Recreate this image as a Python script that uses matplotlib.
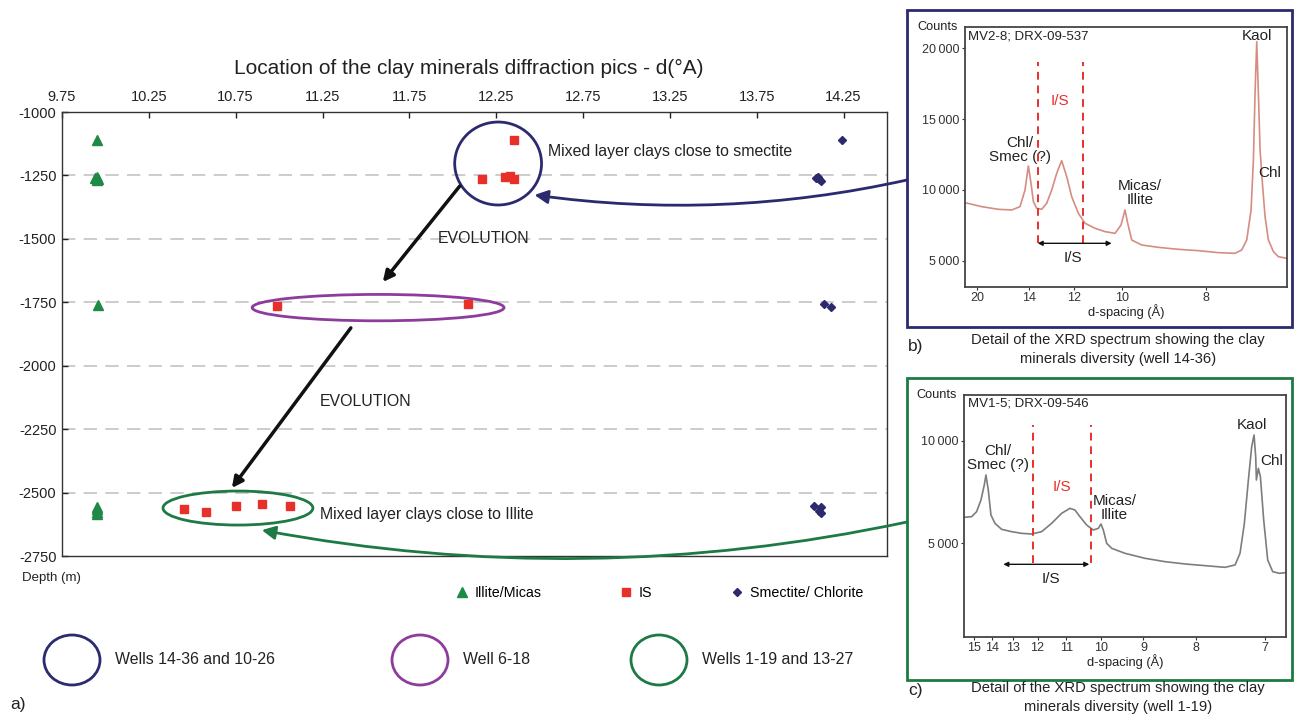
import numpy as np
import matplotlib
matplotlib.use("Agg")
import matplotlib.pyplot as plt
from matplotlib.patches import Ellipse, Rectangle

plt.rcParams['font.family'] = ['Liberation Sans', 'DejaVu Sans']

# ---------------- main chart data: peak position d (Å) vs depth (m) ----------------
illite_d = [9.95, 9.95, 9.94, 9.95, 9.96, 9.957, 9.95, 9.953, 9.95, 9.953]
illite_depth = [-1110, -1255, -1262, -1268, -1265, -1760, -2555, -2565, -2575, -2585]

is_d = [12.35, 12.17, 12.30, 12.33, 12.35, 10.99, 12.09, 10.45, 10.58, 10.75, 10.90, 11.06]
is_depth = [-1110, -1264, -1257, -1251, -1265, -1765, -1756, -2565, -2577, -2552, -2546, -2552]

smec_d = [14.24, 14.10, 14.11, 14.12, 14.09, 14.14, 14.18, 14.08, 14.12, 14.11, 14.12]
smec_depth = [-1112, -1258, -1265, -1270, -1262, -1757, -1767, -2552, -2556, -2571, -2581]

x_ticks = [9.75, 10.25, 10.75, 11.25, 11.75, 12.25, 12.75, 13.25, 13.75, 14.25]
y_ticks = [-1000, -1250, -1500, -1750, -2000, -2250, -2500, -2750]

# ---------------- XRD spectrum MV2-8 (x in °2θ, Cu Kα) ----------------
b_theta = [4.751, 5.186, 5.620, 5.968, 6.185, 6.315, 6.402, 6.472, 6.533, 6.620,
           6.750, 6.880, 7.011, 7.141, 7.271, 7.402, 7.532, 7.706, 7.880, 8.140,
           8.401, 8.662, 8.818, 8.922, 8.992, 9.096, 9.357, 9.791, 10.313, 10.834,
           11.356, 11.790, 11.964, 12.094, 12.207, 12.268, 12.311, 12.355, 12.398,
           12.442, 12.503, 12.572, 12.659, 12.790, 12.920, 13.136]
b_counts = [9098, 8815, 8627, 8580, 8815, 9990, 11690, 10460, 9170, 8700,
            8627, 9050, 9990, 11170, 12065, 10935, 9520, 8340, 7640, 7285,
            7050, 6930, 7520, 8580, 7640, 6460, 6107, 5940, 5800, 5707,
            5565, 5520, 5754, 6460, 8580, 12110, 16820, 20470, 16820,
            12820, 10460, 8110, 6460, 5635, 5280, 5165]
b_tick_pos = [5.07, 6.42, 7.59, 8.835, 11.03]
b_tick_lab = ['20', '14', '12', '10', '8']

# ---------------- XRD spectrum MV1-5 ----------------
c_theta = [5.660, 5.830, 5.946, 6.047, 6.124, 6.163, 6.217, 6.279, 6.372, 6.527,
           6.759, 6.991, 7.224, 7.456, 7.688, 7.920, 8.114, 8.230, 8.346, 8.501,
           8.656, 8.773, 8.835, 8.889, 8.967, 9.083, 9.393, 9.857, 10.322, 10.787,
           11.251, 11.716, 11.948, 12.064, 12.165, 12.258, 12.335, 12.390, 12.428,
           12.444, 12.490, 12.537, 12.614, 12.707, 12.823, 12.978, 13.125]
c_counts = [6266, 6298, 6542, 7110, 7840, 8327, 7597, 6380, 5974, 5682,
            5568, 5487, 5454, 5568, 5974, 6461, 6704, 6623, 6298, 5893,
            5649, 5730, 5941, 5649, 5000, 4757, 4513, 4270, 4107, 3994,
            3913, 3831, 3945, 4513, 5974, 8084, 9707, 10275, 9220,
            8084, 8651, 8246, 6136, 4189, 3620, 3539, 3572]
c_tick_d = [15, 14, 13, 12, 11, 10, 9, 8, 7]

NAVY = '#2b2a6f'
PURPLE = '#8e3c9c'
GREEN = '#1e7a45'
TRI_GREEN = '#1f8a45'
RED = '#e8302a'
GRID = '#c4c4c4'
TXT = '#222222'

W, H = 1297, 718
fig = plt.figure(figsize=(W / 100, H / 100), dpi=100)


def fx(px):
    return px / W


def fy(py):
    return 1 - py / H


# ---------------- main axes ----------------
ax = fig.add_axes([fx(62), fy(556), fx(887) - fx(62), fy(112) - fy(556)])
ax.set_xlim(9.75, 14.5)
ax.set_ylim(-2750, -1000)
ax.xaxis.tick_top()
ax.set_xticks(x_ticks)
ax.set_xticklabels([f"{v:.2f}" for v in x_ticks])
ax.set_yticks(y_ticks)
ax.set_yticklabels([str(v) for v in y_ticks])
ax.tick_params(axis='both', direction='in', length=4, width=1, labelsize=10.5, colors=TXT, pad=4)
ax.tick_params(axis='x', pad=6)
for s in ax.spines.values():
    s.set_color('#333333')
    s.set_linewidth(1.0)
for yv in y_ticks[1:-1]:
    ax.axhline(yv, color=GRID, lw=1.2, dashes=(8, 5), zorder=0)
ax.set_title("Location of the clay minerals diffraction pics - d(°A)", fontsize=15, pad=27, color=TXT,
             x=0.493)

h_ill, = ax.plot(illite_d, illite_depth, ls='none', marker='^', ms=7, color=TRI_GREEN, mec=TRI_GREEN, zorder=3)
h_is, = ax.plot(is_d, is_depth, ls='none', marker='s', ms=5.5, color=RED, mec=RED, zorder=3)
h_sm, = ax.plot(smec_d, smec_depth, ls='none', marker='D', ms=4.5, color=NAVY, mec=NAVY, zorder=3)

# groupings of samples by well
ax.add_patch(Ellipse((12.261, -1203), 0.50, 327, fill=False, ec=NAVY, lw=2, zorder=2))
ax.add_patch(Ellipse((11.57, -1771), 1.45, 104, fill=False, ec=PURPLE, lw=2, zorder=2))
ax.add_patch(Ellipse((10.763, -2561), 0.863, 134, fill=False, ec=GREEN, lw=2, zorder=2))

ax.text(12.546, -1154, "Mixed layer clays close to smectite", fontsize=11.4, va='center', ha='left', color=TXT)
ax.text(11.234, -2585, "Mixed layer clays close to Illite", fontsize=11.4, va='center', ha='left', color=TXT)
ax.text(12.178, -1500, "EVOLUTION", fontsize=11.4, ha='center', va='center', color=TXT)
ax.text(11.499, -2143, "EVOLUTION", fontsize=11.4, ha='center', va='center', color=TXT)

blk = dict(arrowstyle='-|>', color='#111111', lw=2.5, mutation_scale=16, shrinkA=0, shrinkB=0)
ax.annotate('', xy=(11.597, -1670), xytext=(12.04, -1292), arrowprops=blk)
ax.annotate('', xy=(10.728, -2482), xytext=(11.413, -1851), arrowprops=blk)

# curved pointers from the spectrum panels
ax.annotate('', xy=(12.47, -1327), xycoords='data', xytext=(907, H - 180), textcoords='figure pixels',
            arrowprops=dict(arrowstyle='-|>', color=NAVY, lw=2, mutation_scale=20, shrinkA=0, shrinkB=0,
                            connectionstyle='arc3,rad=-0.09'), annotation_clip=False)
ax.annotate('', xy=(10.90, -2648), xycoords='data', xytext=(907, H - 522), textcoords='figure pixels',
            arrowprops=dict(arrowstyle='-|>', color=GREEN, lw=2, mutation_scale=20, shrinkA=0, shrinkB=0,
                            connectionstyle='arc3,rad=-0.1'), annotation_clip=False)

fig.text(fx(22), fy(578), "Depth (m)", fontsize=9.5, ha='left', va='center', color=TXT)

fig.legend([h_ill, h_is, h_sm], ["Illite/Micas", "IS", "Smectite/ Chlorite"], loc='center left',
           bbox_to_anchor=(fx(456), fy(593)), ncol=3, frameon=False, fontsize=10.3, handlelength=0.8,
           handletextpad=0.5, columnspacing=5.5, borderpad=0, borderaxespad=0)

# well legend
for (cx, col, lab) in [(72, NAVY, "Wells 14-36 and 10-26"), (420, PURPLE, "Well 6-18"),
                       (659, GREEN, "Wells 1-19 and 13-27")]:
    fig.patches.append(Ellipse((fx(cx), fy(660)), 56 / W, 50 / H, fill=False, ec=col, lw=2,
                               transform=fig.transFigure))
    fig.text(fx(cx + 43), fy(660), lab, fontsize=11.4, ha='left', va='center', color=TXT)

fig.text(fx(10), fy(705), "a)", fontsize=12.5, ha='left', va='center', color=TXT)


# ---------------- spectrum panels ----------------
def spectrum_panel(rect, theta, counts, xlim, ylim, tick_pos, tick_lab, yticks, ylabs, line_col, name):
    a = fig.add_axes(rect)
    a.plot(theta, counts, color=line_col, lw=1.2)
    a.set_xlim(*xlim)
    a.set_ylim(*ylim)
    a.set_xticks(tick_pos)
    a.set_xticklabels(tick_lab)
    a.set_yticks(yticks)
    a.set_yticklabels(ylabs)
    a.tick_params(labelsize=9, length=2, colors='#333333', pad=2)
    for s in a.spines.values():
        s.set_color('#444444')
        s.set_linewidth(1.3)
    a.set_xlabel("d-spacing (Å)", fontsize=9.3, labelpad=0, color=TXT)
    a.text(-0.022, 1.0, "Counts", transform=a.transAxes, fontsize=9.2, ha='right', va='center', color=TXT)
    a.text(0.01, 0.965, name, transform=a.transAxes, fontsize=9.5, ha='left', va='center', color=TXT)
    return a


LAB = 11

# panel b
ab = spectrum_panel([fx(965), fy(286.7), fx(1286.7) - fx(965), fy(27.3) - fy(286.7)],
                    b_theta, b_counts, (4.751, 13.136), (3160, 21485), b_tick_pos, b_tick_lab,
                    [5000, 10000, 15000, 20000], ['5\u2009000', '10\u2009000', '15\u2009000', '20\u2009000'],
                    '#d58d82', "MV2-8; DRX-09-537")
for xv in (6.645, 7.818):
    ab.plot([xv, xv], [6225, 19060], color=RED, lw=1.4, dashes=(4, 3))
ab.text(7.227, 16304, "I/S", color=RED, fontsize=LAB, ha='center', va='center')
ab.annotate('', xy=(8.574, 6225), xytext=(6.645, 6225),
            arrowprops=dict(arrowstyle='<|-|>', color='#111111', lw=1, mutation_scale=7, shrinkA=0, shrinkB=0))
ab.text(7.575, 5165, "I/S", fontsize=LAB, ha='center', va='center', color=TXT)
ab.text(6.185, 12819, "Chl/\nSmec (?)", fontsize=LAB, ha='center', va='center', color=TXT, linespacing=1.0)
ab.text(9.313, 9757, "Micas/\nIllite", fontsize=LAB, ha='center', va='center', color=TXT, linespacing=1.0)
ab.text(12.372, 20873, "Kaol", fontsize=LAB, ha='center', va='center', color=TXT)
ab.text(12.702, 11170, "Chl", fontsize=LAB, ha='center', va='center', color=TXT)

# panel c
c_tick_pos = [np.degrees(2 * np.arcsin(1.5406 / (2 * d))) for d in c_tick_d]
ac = spectrum_panel([fx(964.3), fy(636.7), fx(1285.7) - fx(964.3), fy(395) - fy(636.7)],
                    c_theta, c_counts, (5.66, 13.125), (452, 12225), c_tick_pos, [str(d) for d in c_tick_d],
                    [5000, 10000], ['5\u2009000', '10\u2009000'], '#7d7d7d', "MV1-5; DRX-09-546")
for xv in (7.263, 8.595):
    ac.plot([xv, xv], [4026, 10762], color=RED, lw=1.4, dashes=(4, 3))
ac.text(7.921, 7759, "I/S", color=RED, fontsize=LAB, ha='center', va='center')
ac.annotate('', xy=(8.564, 3978), xytext=(6.566, 3978),
            arrowprops=dict(arrowstyle='<|-|>', color='#111111', lw=1, mutation_scale=7, shrinkA=0, shrinkB=0))
ac.text(7.666, 3247, "I/S", fontsize=LAB, ha='center', va='center', color=TXT)
ac.text(6.435, 9139, "Chl/\nSmec (?)", fontsize=LAB, ha='center', va='center', color=TXT, linespacing=1.0)
ac.text(9.145, 6737, "Micas/\nIllite", fontsize=LAB, ha='center', va='center', color=TXT, linespacing=1.0)
ac.text(12.335, 10762, "Kaol", fontsize=LAB, ha='center', va='center', color=TXT)
ac.text(12.799, 9025, "Chl", fontsize=LAB, ha='center', va='center', color=TXT)

# panel frames and captions
fig.patches.append(Rectangle((fx(907), fy(327)), 385 / W, 317 / H, fill=False, ec=NAVY, lw=2,
                             transform=fig.transFigure))
fig.patches.append(Rectangle((fx(907), fy(680)), 385 / W, 302 / H, fill=False, ec=GREEN, lw=2,
                             transform=fig.transFigure))

fig.text(fx(908), fy(346), "b)", fontsize=12.5, ha='left', va='center', color=TXT)
fig.text(fx(1118), fy(349.5), "Detail of the XRD spectrum showing the clay\nminerals diversity (well 14-36)",
         fontsize=10.6, ha='center', va='center', color=TXT, linespacing=1.45)
fig.text(fx(908), fy(691), "c)", fontsize=12.5, ha='left', va='center', color=TXT)
fig.text(fx(1118), fy(697.5), "Detail of the XRD spectrum showing the clay\nminerals diversity (well 1-19)",
         fontsize=10.6, ha='center', va='center', color=TXT, linespacing=1.45)

fig.savefig("out.png", dpi=100)
